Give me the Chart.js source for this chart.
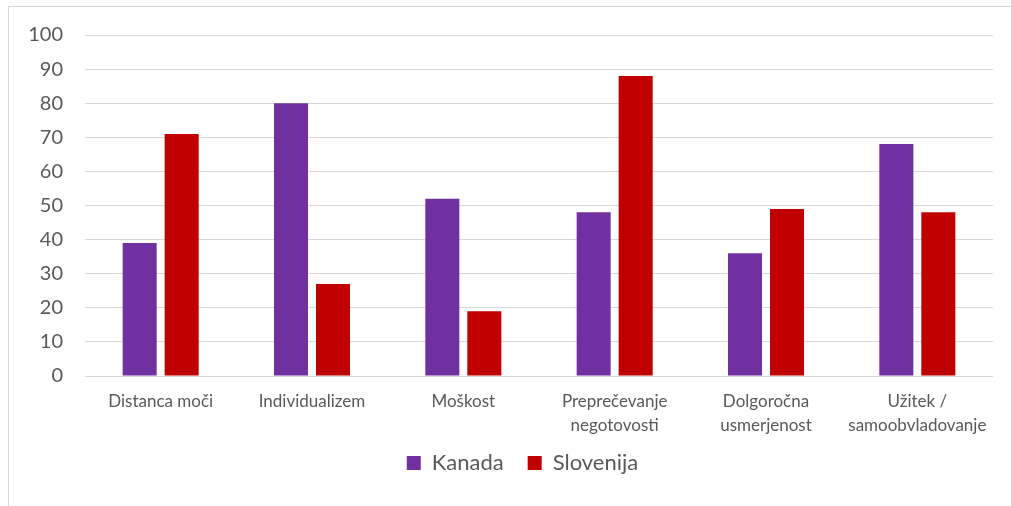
<!DOCTYPE html>
<html>
<head>
<meta charset="utf-8">
<script src="https://cdn.jsdelivr.net/npm/chart.js@4/dist/chart.umd.min.js"></script>
<style>
  html, body { margin: 0; padding: 0; background: #ffffff; }
  #wrap { position: relative; width: 1011px; height: 506px; }
  #frame { position: absolute; left: 8px; top: 6px; right: -2px; bottom: -2px; border: 1px solid #d9d9d9; pointer-events: none; }
  canvas { position: absolute; left: 0; top: 0; }
</style>
</head>
<body>
<div id="wrap">
  <canvas id="c" width="1011" height="506"></canvas>
  <div id="frame"></div>
</div>
<script>
// Hofstede dimension scores
const categories = [
  "Distanca moči",
  "Individualizem",
  "Moškost",
  ["Preprečevanje", "negotovosti"],
  ["Dolgoročna", "usmerjenost"],
  ["Užitek /", "samoobvladovanje"]
];
const kanada = [39, 80, 52, 48, 36, 68];
const slovenija = [71, 27, 19, 88, 49, 48];
const yTicks = [0, 10, 20, 30, 40, 50, 60, 70, 80, 90, 100];

const FONT = "Lato, 'Open Sans', sans-serif";
const TEXT = "#595959";
const LEFT_PAD = 52;

new Chart(document.getElementById("c"), {
  type: "bar",
  data: {
    labels: categories,
    datasets: [
      { label: "Kanada", data: kanada, backgroundColor: "#7030A0" },
      { label: "Slovenija", data: slovenija, backgroundColor: "#C00000" }
    ]
  },
  options: {
    responsive: false,
    animation: false,
    devicePixelRatio: 1,
    layout: { padding: { left: LEFT_PAD, right: 18, top: 35, bottom: 22 } },
    datasets: { bar: { categoryPercentage: 0.555, barPercentage: 0.81 } },
    plugins: {
      tooltip: { enabled: false },
      legend: {
        position: "bottom",
        labels: {
          font: { family: FONT, size: 22 },
          color: TEXT,
          boxWidth: 14,
          boxHeight: 14,
          padding: 24
        }
      }
    },
    scales: {
      x: {
        grid: { display: false, drawTicks: false },
        border: { display: false },
        ticks: {
          font: { family: FONT, size: 17, lineHeight: 1.38 },
          color: TEXT,
          maxRotation: 0,
          autoSkip: false,
          padding: 14
        },
        afterFit: s => {
          s.height = 52;
          // let two-line category labels run past the axis box
          s._computeLabelArea = () => null;
        }
      },
      y: {
        min: 0,
        max: 100,
        afterBuildTicks: s => { s.ticks = yTicks.map(v => ({ value: v })); },
        grid: { color: "#d9d9d9", lineWidth: 1, drawTicks: false },
        border: { display: false },
        ticks: {
          font: { family: FONT, size: 20 },
          color: TEXT,
          padding: 22
        },
        afterFit: s => {
          s.width = 85 - LEFT_PAD;
          s._computeLabelArea = () => null;
        }
      }
    }
  }
});
</script>
</body>
</html>
